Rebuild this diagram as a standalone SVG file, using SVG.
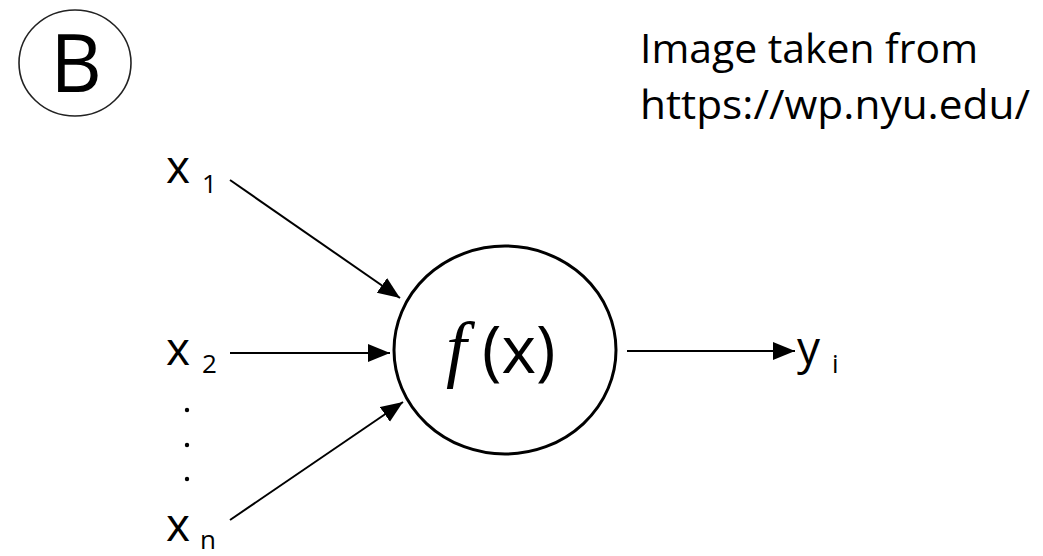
<svg xmlns="http://www.w3.org/2000/svg" width="1043" height="556" viewBox="0 0 1043 556">
<defs>
<style>
.t{font-family:"Open Sans","Liberation Sans",sans-serif;fill:#000}
.note{font-family:"Open Sans","Liberation Sans",sans-serif;font-size:41px;fill:#000}
.lab{font-family:"Open Sans","Liberation Sans",sans-serif;font-size:46px;fill:#000}
.sub{font-size:26px}
.conn{stroke:#000;stroke-width:2;fill:none}
</style>
<marker id="ah" markerUnits="userSpaceOnUse" markerWidth="24" markerHeight="20" refX="22" refY="9" orient="auto">
<path d="M0,0 L22,9 L0,18 Z" fill="#000"/>
</marker>
</defs>
<rect width="1043" height="556" fill="#fff"/>
<g id="badge">
<ellipse cx="75" cy="63" rx="56" ry="53" fill="none" stroke="#222" stroke-width="1.6"/>
<text class="t" x="76" y="92" font-size="80" text-anchor="middle">B</text>
</g>
<g id="note">
<text class="note" x="640" y="63" textLength="338" lengthAdjust="spacingAndGlyphs">Image taken from</text>
<text class="note" x="640" y="119" textLength="390" lengthAdjust="spacingAndGlyphs">https://wp.nyu.edu/</text>
</g>
<g id="x1"><text class="lab" x="166" y="183">x<tspan class="sub" x="202" y="193">1</tspan></text></g>
<g id="x2"><text class="lab" x="166" y="365">x<tspan class="sub" x="202" y="373">2</tspan></text></g>
<g id="dots">
<circle cx="187" cy="410" r="2.2" fill="#000"/>
<circle cx="187" cy="445" r="2.2" fill="#000"/>
<circle cx="187" cy="479" r="2.2" fill="#000"/>
</g>
<g id="xn"><text class="lab" x="166" y="541">x<tspan class="sub" x="200" y="549">n</tspan></text></g>
<g id="neuron">
<ellipse cx="505" cy="350" rx="111" ry="104" fill="none" stroke="#000" stroke-width="3"/>
<text class="t" x="446" y="373" font-size="66"><tspan font-family="Liberation Serif,serif" font-style="italic" font-size="74">f</tspan><tspan x="482">(x)</tspan></text>
</g>
<g id="yi"><text class="lab" x="797" y="364">y<tspan class="sub" x="832" y="373" font-size="21">i</tspan></text></g>
<g id="connectors">
<line class="conn" x1="230" y1="180" x2="400" y2="298" marker-end="url(#ah)"/>
<line class="conn" x1="230" y1="353" x2="390" y2="353" marker-end="url(#ah)"/>
<line class="conn" x1="230" y1="520" x2="403" y2="402" marker-end="url(#ah)"/>
<line class="conn" x1="627" y1="351" x2="795" y2="351" marker-end="url(#ah)"/>
</g>
</svg>
